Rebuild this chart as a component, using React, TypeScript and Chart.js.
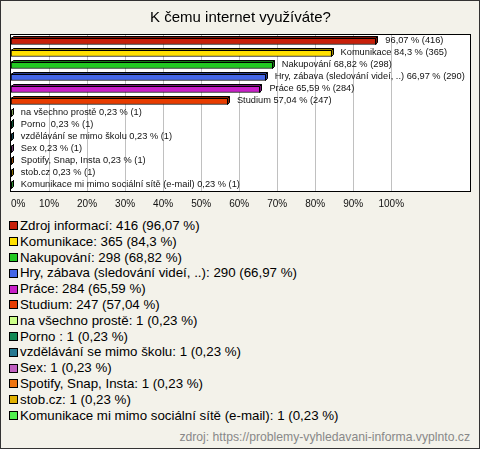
import React, { useEffect, useRef } from "react";
import { Chart, registerables } from "chart.js";

Chart.register(...registerables);

const categories = [
  "Zdroj informací",
  "Komunikace",
  "Nakupování",
  "Hry, zábava (sledování videí, ..)",
  "Práce",
  "Studium",
  "na všechno prostě",
  "Porno ",
  "vzdělávání se mimo školu",
  "Sex",
  "Spotify, Snap, Insta",
  "stob.cz",
  "Komunikace mi mimo sociální sítě (e-mail)",
];
const counts = [416, 365, 298, 290, 284, 247, 1, 1, 1, 1, 1, 1, 1];
const percents = [96.07, 84.3, 68.82, 66.97, 65.59, 57.04, 0.23, 0.23, 0.23, 0.23, 0.23, 0.23, 0.23];
const percentTexts = ["96,07", "84,3", "68,82", "66,97", "65,59", "57,04", "0,23", "0,23", "0,23", "0,23", "0,23", "0,23", "0,23"];
const barLabels = [
  "96,07 % (416)",
  "Komunikace 84,3 % (365)",
  "Nakupování 68,82 % (298)",
  "Hry, zábava (sledování videí, ..) 66,97 % (290)",
  "Práce 65,59 % (284)",
  "Studium 57,04 % (247)",
  "na všechno prostě 0,23 % (1)",
  "Porno  0,23 % (1)",
  "vzdělávání se mimo školu 0,23 % (1)",
  "Sex 0,23 % (1)",
  "Spotify, Snap, Insta 0,23 % (1)",
  "stob.cz 0,23 % (1)",
  "Komunikace mi mimo sociální sítě (e-mail) 0,23 % (1)",
];
const colors = [
  "#c8200a",
  "#ffe000",
  "#22c822",
  "#4466e8",
  "#c820c8",
  "#e83c00",
  "#ccff88",
  "#128855",
  "#267890",
  "#c060c0",
  "#ee7410",
  "#e0b000",
  "#50f050",
];
const tickValues = [0, 10, 20, 30, 40, 50, 60, 70, 80, 90, 100];
const tickLabels = ["0%", "10%", "20%", "30%", "40%", "50%", "60%", "70%", "80%", "90%", "100%"];
const xMax = 120.7;
const title = "K čemu internet využíváte?";
const source = "zdroj: https://problemy-vyhledavani-informa.vyplnto.cz";

const legendLabels = categories.map(
  (c, i) => `${c}: ${counts[i]} (${percentTexts[i]} %)`
);

const FONT = '"Liberation Sans", Arial, sans-serif';

function darken(hex: string, f: number) {
  const n = parseInt(hex.slice(1), 16);
  const r = Math.round(((n >> 16) & 255) * f);
  const g = Math.round(((n >> 8) & 255) * f);
  const b = Math.round((n & 255) * f);
  return `rgb(${r},${g},${b})`;
}

const deco = {
  id: "deco",
  beforeDatasetsDraw(chart: any) {
    const { ctx, chartArea: a, scales } = chart;
    const x = scales.x;
    ctx.save();
    ctx.fillStyle = "#ffffff";
    ctx.fillRect(a.left, a.top, a.right - a.left, a.bottom - a.top);
    ctx.strokeStyle = "#c0c0c0";
    ctx.lineWidth = 1;
    tickValues.forEach((v) => {
      if (v === 0) return;
      const px = Math.round(x.getPixelForValue(v)) + 0.5;
      ctx.beginPath();
      ctx.moveTo(px, a.top);
      ctx.lineTo(px, a.bottom);
      ctx.stroke();
    });
    ctx.strokeStyle = "#000";
    ctx.strokeRect(a.left - 0.5, a.top - 0.5, a.right - a.left + 1, a.bottom - a.top + 1);
    ctx.fillStyle = "#111";
    ctx.font = `10px ${FONT}`;
    ctx.textBaseline = "middle";
    ctx.textAlign = "center";
    tickValues.forEach((v, i) => {
      const px = x.getPixelForValue(v);
      const w = ctx.measureText(tickLabels[i]).width;
      const cx = Math.max(px, a.left + w / 2);
      ctx.fillText(tickLabels[i], cx, a.bottom + 13);
    });
    ctx.restore();
  },
  afterDatasetsDraw(chart: any) {
    const { ctx } = chart;
    const meta = chart.getDatasetMeta(0);
    ctx.save();
    ctx.lineWidth = 1;
    ctx.strokeStyle = "#000";
    const d = 2;
    meta.data.forEach((el: any, i: number) => {
      const p = el.getProps(["x", "y", "base", "height"], true);
      const top = Math.round(p.y - p.height / 2) + 0.5;
      const bottom = Math.round(p.y + p.height / 2) - 0.5;
      const left = Math.round(p.base) + 0.5;
      const right = Math.round(p.x) - 0.5;
      const dark = darken(colors[i], 0.6);
      ctx.fillStyle = dark;
      ctx.beginPath();
      ctx.moveTo(left, top);
      ctx.lineTo(left + d, top - d);
      ctx.lineTo(right + d, top - d);
      ctx.lineTo(right, top);
      ctx.closePath();
      ctx.fill();
      ctx.stroke();
      ctx.beginPath();
      ctx.moveTo(right, top);
      ctx.lineTo(right + d, top - d);
      ctx.lineTo(right + d, bottom - d);
      ctx.lineTo(right, bottom);
      ctx.closePath();
      ctx.fill();
      ctx.stroke();
      ctx.fillStyle = "#111";
      ctx.font = `9.25px ${FONT}`;
      ctx.textBaseline = "middle";
      ctx.textAlign = "left";
      ctx.fillText(barLabels[i], p.x + 9, p.y - 1);
    });
    ctx.restore();
  },
};

export default function App() {
  const ref = useRef<HTMLCanvasElement>(null);
  useEffect(() => {
    document.body.style.margin = "0";
    const chart = new Chart(ref.current as HTMLCanvasElement, {
      type: "bar",
      data: {
        labels: categories,
        datasets: [
          {
            data: percents,
            backgroundColor: colors,
            borderColor: "#000",
            borderWidth: 1,
            borderSkipped: false,
            barThickness: 7,
          },
        ],
      },
      options: {
        indexAxis: "y",
        animation: false,
        responsive: false,
        layout: { padding: { left: 11, right: 10, top: 0, bottom: 24 } },
        scales: {
          x: { display: false, min: 0, max: xMax },
          y: { display: false },
        },
        plugins: {
          legend: { display: false },
          tooltip: { enabled: false },
          title: {
            display: true,
            text: title,
            color: "#000",
            font: { family: FONT, size: 15, weight: "normal" },
            padding: { top: 9, bottom: 8 },
          },
        },
      } as any,
      plugins: [deco],
    });
    return () => chart.destroy();
  }, []);

  return (
    <div
      style={{
        position: "relative",
        width: 480,
        height: 449,
        boxSizing: "border-box",
        border: "1px solid #333",
        background: "#f3f2ea",
        fontFamily: FONT,
        overflow: "hidden",
      }}
    >
      <canvas ref={ref} width={480} height={215} style={{ position: "absolute", left: -1, top: -1 }} />
      <div style={{ position: "absolute", left: 8, top: 217, fontSize: 13.3, lineHeight: "15.8px", color: "#000" }}>
        {legendLabels.map((t, i) => (
          <div key={i} style={{ display: "flex", alignItems: "center", whiteSpace: "nowrap", height: 15.8 }}>
            <span
              style={{
                display: "inline-block",
                width: 7,
                height: 7,
                border: "1px solid #000",
                background: colors[i],
                marginRight: 2,
                flex: "none",
              }}
            />
            {t}
          </div>
        ))}
      </div>
      <div style={{ position: "absolute", right: 9, top: 429, fontSize: 12.2, color: "#888", whiteSpace: "nowrap" }}>
        {source}
      </div>
    </div>
  );
}
